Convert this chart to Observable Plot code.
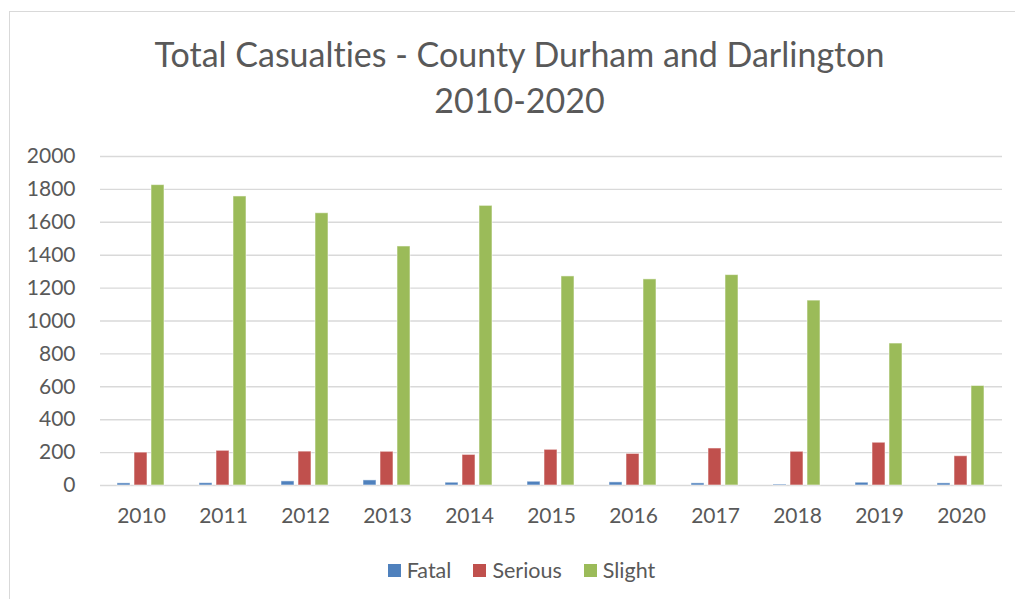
<!DOCTYPE html>
<html>
<head>
<meta charset="utf-8">
<script src="https://cdn.jsdelivr.net/npm/d3@7"></script>
<script src="https://cdn.jsdelivr.net/npm/@observablehq/plot@0.6"></script>
<style>
  html, body { margin: 0; padding: 0; background: #fff; }
  #wrap { position: relative; width: 1015px; height: 599px; overflow: hidden; font-family: Lato, "Open Sans", sans-serif; color: #595959; font-variant-ligatures: none; }
  #frame { position: absolute; left: 9px; top: 11px; width: 1100px; height: 700px; border: 1.5px solid #d9d9d9; box-sizing: border-box; pointer-events: none; }
  #title { position: relative; padding-top: 31px; height: 99px; text-align: center; font-size: 34px; line-height: 46px; padding-left: 24px; }
  #chart { position: relative; height: 410px; }
  #legend { position: relative; display: flex; justify-content: center; align-items: center; gap: 22px; font-size: 21.5px; margin-top: 17px; padding-left: 28px; }
  .item { display: flex; align-items: center; gap: 6px; }
  .sw { width: 13px; height: 13px; display: inline-block; }
</style>
</head>
<body>
<div id="wrap">
  <div id="frame"></div>
  <div id="title">Total Casualties - County Durham and Darlington<br>2010-2020</div>
  <div id="chart"></div>
  <div id="legend"></div>
</div>
<script>
const years = ["2010","2011","2012","2013","2014","2015","2016","2017","2018","2019","2020"];
const types = ["Fatal","Serious","Slight"];
const colors = ["#4F81BD","#C0504D","#9BBB59"];
const fatal = [13,14,25,31,17,23,19,13,6,17,13];
const serious = [200,211,206,205,186,217,192,225,205,260,178];
const slight = [1826,1757,1655,1453,1700,1271,1253,1279,1124,863,605];
const yTicks = [0,200,400,600,800,1000,1200,1400,1600,1800,2000];

const series = {Fatal: fatal, Serious: serious, Slight: slight};
const rows = [];
years.forEach((y, i) => types.forEach(t => rows.push({year: y, type: t, value: series[t][i]})));

const chart = Plot.plot({
  width: 1015,
  height: 410,
  marginTop: 26,
  marginBottom: 55,
  marginLeft: 99,
  marginRight: 13,
  style: {fontFamily: "Lato, 'Open Sans', sans-serif", color: "#595959", background: "transparent", overflow: "visible"},
  fx: {domain: years, padding: 0, label: null, axis: null},
  x: {domain: types, paddingInner: 0.22, paddingOuter: 0.89, axis: null},
  y: {domain: [0, 2000], label: null, axis: null},
  color: {domain: types, range: colors},
  marks: [
    Plot.gridY(yTicks, {stroke: "#d9d9d9", strokeOpacity: 1, strokeWidth: 1.4}),
    Plot.barY(rows, {fx: "year", x: "type", y: "value", fill: "type", stroke: "#ffffff", strokeOpacity: 0.55, strokeWidth: 1}),
    Plot.axisY(yTicks, {tickSize: 0, tickPadding: 25, fontSize: 21, label: null, tickFormat: d => String(d)}),
    Plot.axisFx({anchor: "bottom", tickSize: 0, tickPadding: 23, fontSize: 21, label: null})
  ]
});
document.getElementById("chart").appendChild(chart);

const legend = document.getElementById("legend");
types.forEach((t, i) => {
  const item = document.createElement("div");
  item.className = "item";
  const sw = document.createElement("span");
  sw.className = "sw";
  sw.style.background = colors[i];
  const lab = document.createElement("span");
  lab.textContent = t;
  item.appendChild(sw);
  item.appendChild(lab);
  legend.appendChild(item);
});
</script>
</body>
</html>
